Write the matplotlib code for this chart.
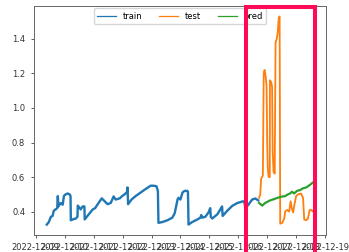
import numpy as np
import matplotlib
matplotlib.use("Agg")
import matplotlib.pyplot as plt
import matplotlib.dates as mdates
from matplotlib.patches import Rectangle

start = np.datetime64("2022-12-09T00:00")

# days after start, value
train_day = [0.38, 0.45, 0.52, 0.58, 0.62, 0.70, 0.74, 0.76, 0.78, 0.86, 0.93, 0.97,
             1.03, 1.10, 1.17, 1.20, 1.21, 1.28, 1.38, 1.44, 1.45, 1.55, 1.62, 1.68,
             1.69, 1.79, 1.97, 2.05, 2.14, 2.28, 2.38, 2.48, 2.59, 2.69, 2.76, 2.90,
             3.00, 3.07, 3.16, 3.17, 3.19, 3.31, 3.45, 3.62, 3.79, 3.97, 4.07, 4.17,
             4.22, 4.24, 4.38, 4.55, 4.72, 4.80, 4.83, 4.90, 4.93, 5.00, 5.07, 5.14,
             5.24, 5.26, 5.28, 5.41, 5.59, 5.69, 5.72, 5.75, 5.86, 5.97, 6.03, 6.05,
             6.10, 6.28, 6.38, 6.44, 6.46, 6.62, 6.79, 6.97, 7.07, 7.17, 7.22, 7.24,
             7.35, 7.48, 7.59, 7.69]
train_val = [0.325, 0.34, 0.37, 0.375, 0.405, 0.415, 0.42, 0.49, 0.43, 0.45, 0.44, 0.49,
             0.50, 0.505, 0.50, 0.49, 0.35, 0.355, 0.36, 0.37, 0.435, 0.413, 0.43, 0.43,
             0.355, 0.376, 0.413, 0.42, 0.443, 0.477, 0.46, 0.443, 0.45, 0.488, 0.47, 0.477,
             0.492, 0.50, 0.515, 0.54, 0.443, 0.47, 0.49, 0.51, 0.53, 0.55, 0.55, 0.547,
             0.52, 0.335, 0.34, 0.35, 0.365, 0.39, 0.413, 0.47, 0.48, 0.47, 0.51, 0.52,
             0.52, 0.515, 0.325, 0.34, 0.355, 0.365, 0.38, 0.365, 0.37, 0.395, 0.42, 0.37,
             0.36, 0.385, 0.413, 0.43, 0.375, 0.405, 0.433, 0.45, 0.455, 0.46, 0.45, 0.42,
             0.44, 0.47, 0.476, 0.465]

test_day = [7.72, 7.76, 7.79, 7.85, 7.86, 7.88, 7.91, 7.95, 7.98, 8.00, 8.02, 8.05,
            8.09, 8.095, 8.14, 8.17, 8.19, 8.22, 8.26, 8.29, 8.33, 8.36, 8.40, 8.43,
            8.45, 8.52, 8.59, 8.62, 8.69, 8.76, 8.81, 8.85, 8.90, 8.93, 9.00, 9.07,
            9.17, 9.24, 9.28, 9.35, 9.41, 9.47, 9.52, 9.59]
test_val = [0.48, 0.50, 0.59, 0.61, 0.79, 1.20, 1.22, 1.18, 1.12, 0.80, 0.65, 0.60,
            0.60, 1.16, 1.15, 1.12, 0.75, 0.63, 0.62, 1.38, 1.40, 1.43, 1.52, 1.53,
            0.33, 0.335, 0.36, 0.40, 0.41, 0.40, 0.46, 0.42, 0.395, 0.43, 0.49, 0.50,
            0.505, 0.48, 0.355, 0.35, 0.36, 0.41, 0.41, 0.40]

pred_day = [7.72, 7.83, 7.93, 8.10, 8.28, 8.45, 8.62, 8.72, 8.79, 8.86, 8.93, 9.03,
            9.14, 9.24, 9.35, 9.48, 9.59]
pred_val = [0.45, 0.435, 0.45, 0.465, 0.475, 0.485, 0.49, 0.50, 0.505, 0.515, 0.505, 0.52,
            0.525, 0.535, 0.54, 0.555, 0.57]


def to_time(days):
    return start + (np.array(days) * 86400).astype("timedelta64[s]")


fig = plt.figure(figsize=(3.49, 2.52), dpi=100)
ax = fig.add_axes([0.096, 0.0675, 0.8395, 0.9087])

ax.plot(to_time(train_day), train_val, color="#1f77b4", lw=1.7, label="train")
ax.plot(to_time(test_day), test_val, color="#ff7f0e", lw=1.3, label="test")
ax.plot(to_time(pred_day), pred_val, color="#2ca02c", lw=1.6, label="pred")

ax.xaxis.set_major_locator(mdates.DayLocator())
ax.xaxis.set_major_formatter(mdates.DateFormatter("%Y-%m-%d"))
ax.set_yticks([0.4, 0.6, 0.8, 1.0, 1.2, 1.4])
ax.tick_params(labelsize=6, length=2.5, width=0.6, colors="#444444", labelcolor="#333333")
for s in ax.spines.values():
    s.set_linewidth(0.7)
    s.set_color("#666666")

leg = ax.legend(loc="upper center", ncol=3, fontsize=6, frameon=True,
                borderaxespad=0.3, handlelength=2.3)
for h in leg.get_lines():
    h.set_linewidth(0.9)

# highlight box drawn over the figure
fig.patches.append(Rectangle((0.705, -0.1), 0.1985, 1.073, transform=fig.transFigure,
                             fill=False, edgecolor="#ff0a55", lw=2.9, zorder=10))

fig.savefig("out.png", dpi=100)
